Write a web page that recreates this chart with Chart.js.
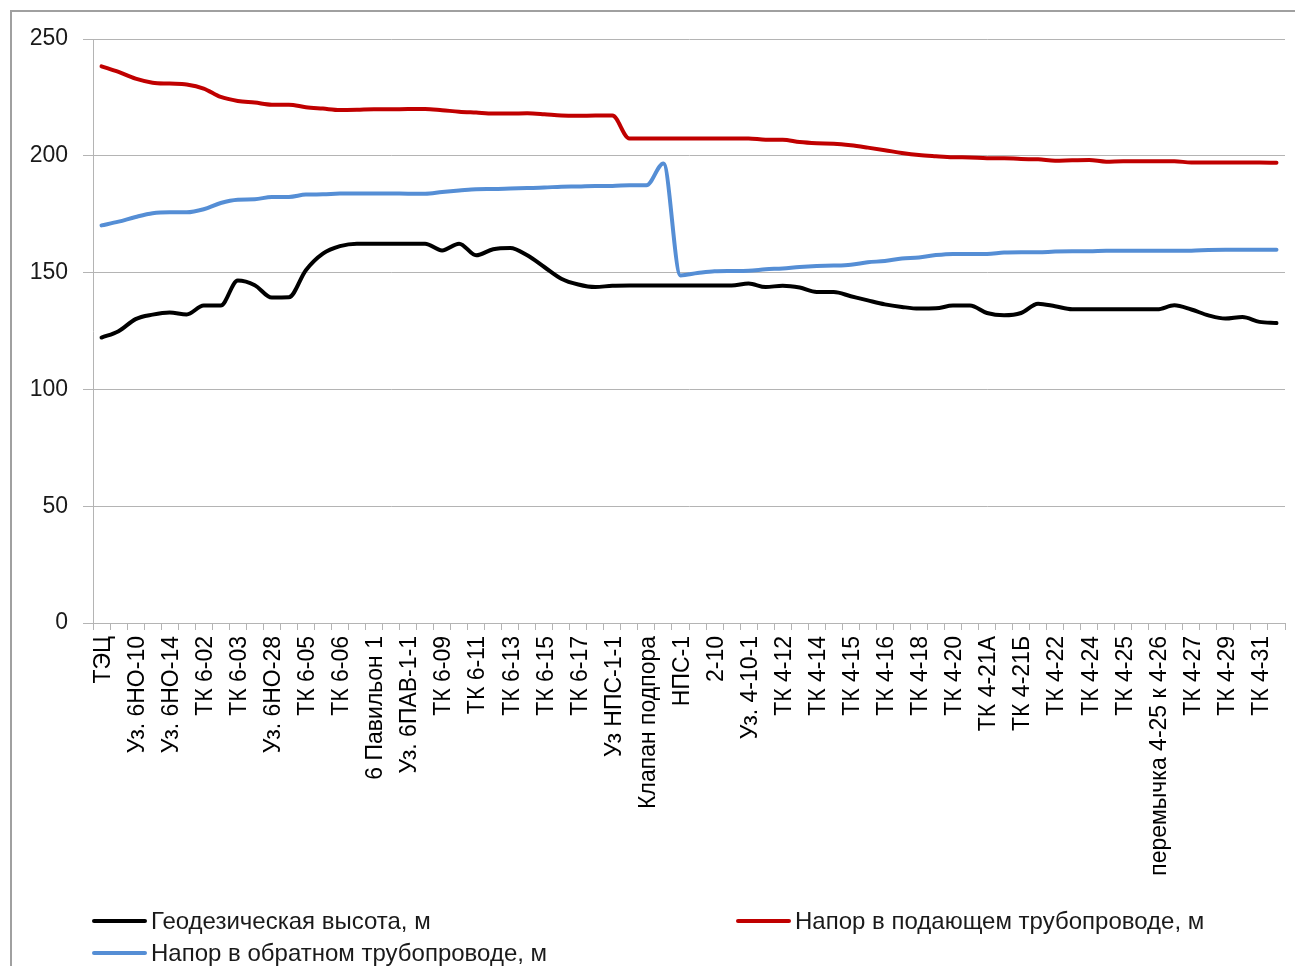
<!DOCTYPE html>
<html lang="ru">
<head>
  <meta charset="UTF-8">
  <title>Пьезометрический график</title>
  <script src="https://cdn.jsdelivr.net/npm/chart.js"></script>
  <style>
    html, body { margin: 0; padding: 0; background: #fff; }
    #wrap { position: relative; width: 1295px; height: 966px; overflow: hidden; }
    #frame { position: absolute; left: 10px; top: 10px; width: 1310px; height: 990px; border: 2px solid #a0a0a0; box-sizing: border-box; }
    #chart { position: absolute; left: 0; top: 0; }
    #legend { position: absolute; left: 92px; top: 905px; display: grid; grid-template-columns: 644px auto; grid-auto-rows: 32px; }
    .item { display: flex; align-items: center; font: 24px 'Liberation Sans', Arial, sans-serif; color: #1a1a1a; white-space: nowrap; }
    .swatch { width: 55px; height: 4px; border-radius: 2px; margin-right: 4px; }
  </style>
</head>
<body>
<div id="wrap">
  <div id="frame"></div>
  <canvas id="chart" width="1295" height="966"></canvas>
  <div id="legend"></div>
</div>

<script>
  // node names shown on the axis (every second point is labelled in the original)
  const shownLabels = ['ТЭЦ', 'Уз. 6НО-10', 'Уз. 6НО-14', 'ТК 6-02', 'ТК 6-03', 'Уз. 6НО-28', 'ТК 6-05',
    'ТК 6-06', '6 Павильон 1', 'Уз. 6ПАВ-1-1', 'ТК 6-09', 'ТК 6-11', 'ТК 6-13', 'ТК 6-15', 'ТК 6-17',
    'Уз НПС-1-1', 'Клапан подпора', 'НПС-1', '2-10', 'Уз. 4-10-1', 'ТК 4-12', 'ТК 4-14', 'ТК 4-15',
    'ТК 4-16', 'ТК 4-18', 'ТК 4-20', 'ТК 4-21А', 'ТК 4-21Б', 'ТК 4-22', 'ТК 4-24', 'ТК 4-25',
    'перемычка 4-25 к 4-26', 'ТК 4-27', 'ТК 4-29', 'ТК 4-31'];
  const categories = shownLabels.flatMap(l => [l, '']);

  const geodetic = [122.2, 124.9, 130.1, 132.0, 132.9, 132.1, 135.9, 135.9, 146.6, 144.6,
    139.3, 139.4, 151.0, 158.1, 161.3, 162.4, 162.4, 162.4, 162.4, 162.4,
    159.5, 162.4, 157.4, 160.0, 160.5, 157.4, 152.4, 147.4, 144.9, 143.8,
    144.4, 144.5, 144.5, 144.5, 144.5, 144.5, 144.5, 144.5, 145.3, 143.8,
    144.4, 143.6, 141.7, 141.7, 139.9, 138.1, 136.4, 135.3, 134.6, 134.7,
    135.9, 135.9, 132.7, 131.7, 132.7, 136.7, 135.6, 134.3, 134.3, 134.3,
    134.3, 134.3, 134.3, 136.0, 134.2, 131.7, 130.3, 131.0, 128.9, 128.4];

  const supplyHead = [238.3, 235.9, 233.0, 231.3, 230.9, 230.5, 228.8, 225.2, 223.5, 222.8,
    221.9, 221.9, 220.8, 220.2, 219.6, 219.7, 219.9, 219.9, 220.0, 220.0,
    219.5, 218.9, 218.5, 218.1, 218.1, 218.2, 217.8, 217.2, 217.1, 217.2,
    217.2, 207.4, 207.4, 207.4, 207.4, 207.4, 207.4, 207.4, 207.4, 206.9,
    206.9, 205.9, 205.4, 205.2, 204.5, 203.5, 202.4, 201.2, 200.3, 199.8,
    199.4, 199.3, 199.0, 199.0, 198.6, 198.5, 197.9, 198.1, 198.2, 197.5,
    197.7, 197.7, 197.7, 197.7, 197.1, 197.1, 197.1, 197.1, 197.1, 197.0];

  const returnHead = [170.2, 171.8, 173.8, 175.4, 175.8, 175.8, 177.1, 179.8, 181.2, 181.4,
    182.4, 182.4, 183.4, 183.5, 183.9, 183.9, 183.9, 183.9, 183.8, 183.8,
    184.5, 185.1, 185.7, 185.8, 186.0, 186.2, 186.4, 186.8, 186.9, 187.1,
    187.1, 187.4, 187.4, 196.7, 148.8, 149.8, 150.6, 150.7, 150.8, 151.4,
    151.8, 152.4, 152.8, 153.0, 153.4, 154.4, 155.0, 156.0, 156.5, 157.5,
    158.0, 158.0, 158.0, 158.6, 158.7, 158.7, 159.0, 159.1, 159.1, 159.4,
    159.4, 159.4, 159.4, 159.4, 159.4, 159.7, 159.8, 159.8, 159.8, 159.8];

  const yMin = 0, yMax = 250, yStep = 50;

  const gridColor = '#b4b4b4';
  const fontFamily = "'Liberation Sans', Arial, sans-serif";

  function line(label, data, color) {
    return {
      label: label,
      data: data,
      borderColor: color,
      backgroundColor: color,
      borderWidth: 4,
      pointRadius: 0,
      cubicInterpolationMode: 'monotone',
      borderCapStyle: 'round',
      borderJoinStyle: 'round',
      fill: false
    };
  }

  const ctx = document.getElementById('chart').getContext('2d');
  const chart = new Chart(ctx, {
    type: 'line',
    data: {
      labels: categories,
      datasets: [
        line('Геодезическая высота, м', geodetic, '#000000'),
        line('Напор в подающем трубопроводе, м', supplyHead, '#c00000'),
        line('Напор в обратном трубопроводе, м', returnHead, '#558ed5')
      ]
    },
    options: {
      responsive: false,
      animation: false,
      layout: { padding: { top: 39, right: 10, left: 0, bottom: 0 } },
      plugins: {
        legend: { display: false },
        tooltip: { enabled: false }
      },
      scales: {
        x: {
          offset: true,
          grid: { offset: true, drawOnChartArea: false, drawTicks: true, tickLength: 7, color: gridColor },
          border: { color: gridColor, width: 1 },
          ticks: { autoSkip: false, minRotation: 90, maxRotation: 90, padding: 6, labelOffset: 2, color: '#000', font: { family: fontFamily, size: 23 } },
          afterFit: s => {
            s.height = 343;
            s.paddingLeft = 0;
            s.paddingRight = 0;
          }
        },
        y: {
          min: yMin,
          max: yMax,
          ticks: { stepSize: yStep, padding: 15, color: '#1a1a1a', font: { family: fontFamily, size: 23 } },
          grid: { color: gridColor, tickLength: 10 },
          border: { color: gridColor, width: 1 },
          afterFit: s => { s.width = 93; }
        }
      }
    }
  });

  // legend in two columns like the original
  const legendBox = document.getElementById('legend');
  chart.data.datasets.forEach(ds => {
    const item = document.createElement('div');
    item.className = 'item';
    const sw = document.createElement('span');
    sw.className = 'swatch';
    sw.style.background = ds.borderColor;
    item.appendChild(sw);
    item.appendChild(document.createTextNode(ds.label));
    legendBox.appendChild(item);
  });
</script>
</body>
</html>
